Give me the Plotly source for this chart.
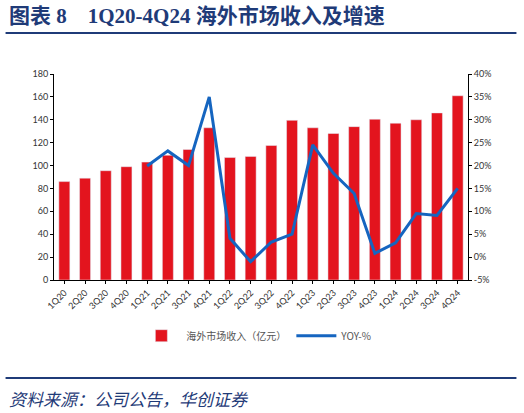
import plotly.graph_objects as go

# Quarterly overseas revenue (100M RMB) and YoY growth (%)
quarters = ['1Q20', '2Q20', '3Q20', '4Q20', '1Q21', '2Q21', '3Q21', '4Q21',
            '1Q22', '2Q22', '3Q22', '4Q22', '1Q23', '2Q23', '3Q23', '4Q23',
            '1Q24', '2Q24', '3Q24', '4Q24']
revenue = [86, 89, 95.5, 99, 103, 109, 114, 133,
           107, 108, 117.5, 139.5, 133, 128, 134, 140.5,
           137, 140, 146, 161]
yoy = [None, None, None, None, 19.9, 23.2, 20.0, 35.0,
       4.1, -1.0, 3.3, 5.0, 24.5, 18.3, 13.9, 0.8,
       3.1, 9.5, 9.1, 15.0]

left_ticks = list(range(0, 181, 20))
right_ticks = list(range(-5, 41, 5))

title_color = '#1f3b78'
tick_font = dict(family='Lato, Arial', size=9, color='#333333')

fig = go.Figure()

fig.add_trace(go.Bar(
    x=quarters, y=revenue,
    name='海外市场收入（亿元）',
    marker=dict(color='#e3141e'),
    yaxis='y',
))

fig.add_trace(go.Scatter(
    x=quarters, y=yoy,
    name='YOY-%',
    mode='lines',
    line=dict(color='#1565c0', width=3),
    yaxis='y2',
))

fig.update_layout(
    width=524, height=413,
    margin=dict(l=54, r=56, t=74, b=133),
    plot_bgcolor='white', paper_bgcolor='white',
    bargap=0.47,
    showlegend=True,
    legend=dict(orientation='h', x=0.49, xanchor='center', y=-0.2, yanchor='top',
                font=dict(family='Noto Sans CJK SC', size=10, color='#555555'),
                itemwidth=40, tracegroupgap=0),
    xaxis=dict(
        tickangle=-45, tickfont=tick_font,
        showline=True, linecolor='black', linewidth=1,
        ticks='outside', ticklen=3, tickcolor='black',
        showgrid=False,
    ),
    yaxis=dict(
        range=[0, 180], tickvals=left_ticks, tickfont=tick_font,
        showline=True, linecolor='black', linewidth=1,
        ticks='outside', ticklen=3, tickcolor='black',
        showgrid=False, zeroline=False,
    ),
    yaxis2=dict(
        range=[-5, 40], tickvals=right_ticks,
        ticktext=[f'{v}%' for v in right_ticks], tickfont=tick_font,
        overlaying='y', side='right',
        showline=True, linecolor='black', linewidth=1,
        ticks='outside', ticklen=3, tickcolor='black',
        showgrid=False, zeroline=False,
    ),
    annotations=[
        dict(text='<b>图表 8    1Q20-4Q24 海外市场收入及增速</b>',
             xref='paper', yref='paper', x=-0.113, y=1.28,
             xanchor='left', yanchor='middle', showarrow=False,
             font=dict(family='Liberation Serif, Noto Sans CJK SC', size=21,
                       color=title_color)),
        dict(text='<i>资料来源：公司公告，华创证券</i>',
             xref='paper', yref='paper', x=-0.113, y=-0.573,
             xanchor='left', yanchor='middle', showarrow=False,
             font=dict(family='Noto Sans CJK SC', size=17, color=title_color)),
    ],
    shapes=[
        dict(type='line', xref='paper', yref='paper',
             x0=-0.117, x1=1.117, y0=1.199, y1=1.199,
             line=dict(color=title_color, width=2)),
        dict(type='line', xref='paper', yref='paper',
             x0=-0.117, x1=1.117, y0=-0.476, y1=-0.476,
             line=dict(color=title_color, width=2)),
    ],
)

fig.write_html('out.html', config={'displayModeBar': False},
               post_script="document.body.style.margin='0';")
